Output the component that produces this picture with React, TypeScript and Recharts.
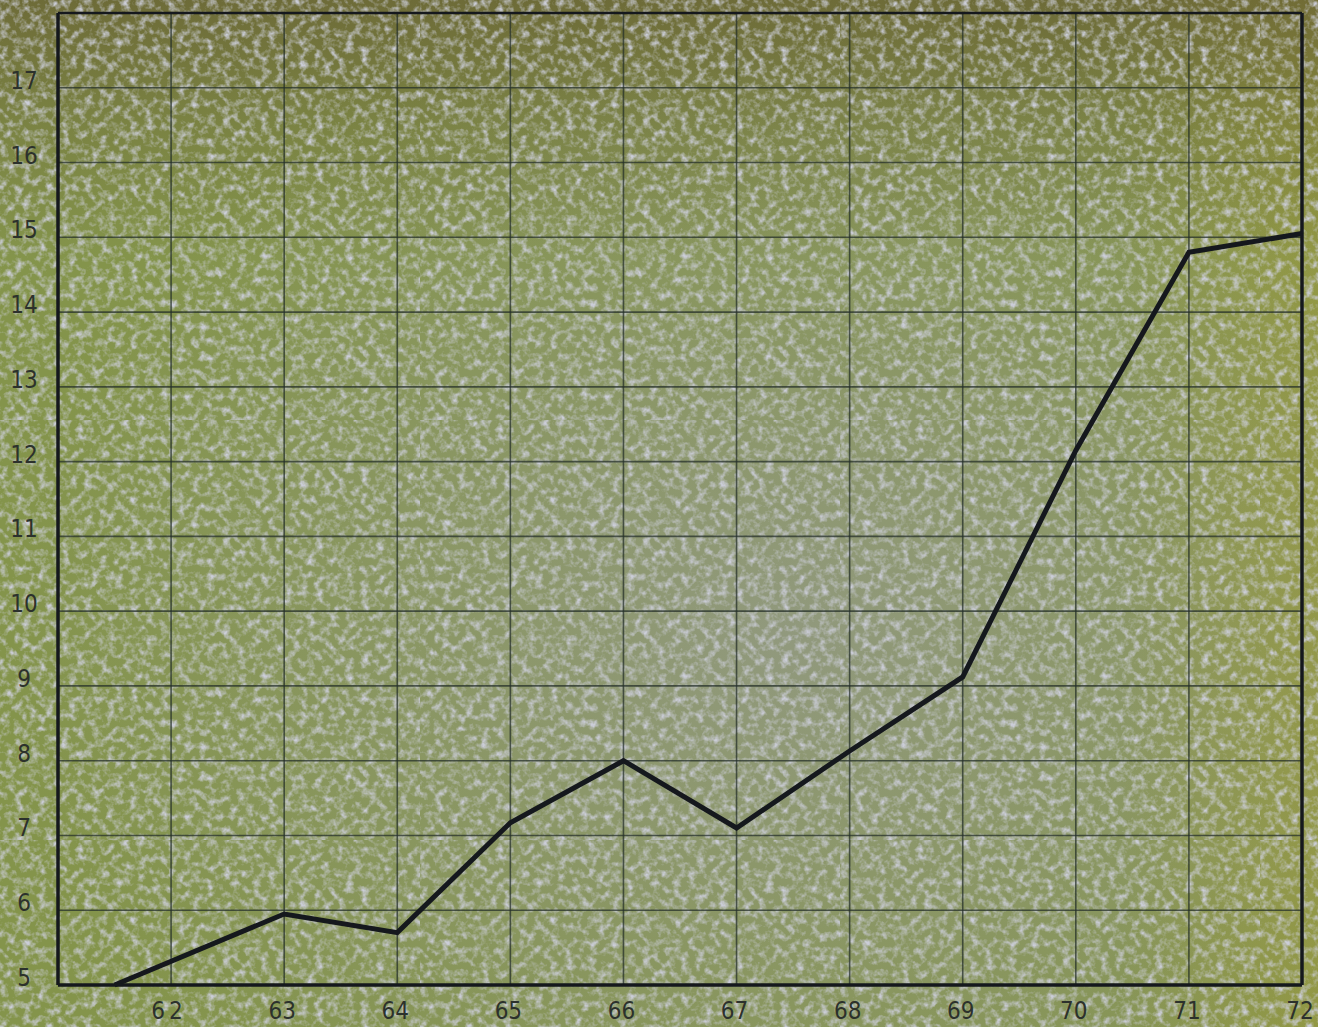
import { LineChart, Line, XAxis, YAxis, CartesianGrid, ReferenceLine } from 'recharts';

// years (19xx) and the plotted value
const years = [61.5, 63, 64, 65, 66, 67, 68, 69, 70, 71, 72];
const values = [5, 5.95, 5.7, 7.17, 8.0, 7.1, 8.13, 9.12, 12.15, 14.8, 15.05];

const xTicks = [62, 63, 64, 65, 66, 67, 68, 69, 70, 71, 72];
const yTicks = [5, 6, 7, 8, 9, 10, 11, 12, 13, 14, 15, 16, 17];

const data = years.map((year, i) => ({ year, value: values[i] }));

const INK = '#15181d';
const LABEL = '#2c312c';
const FONT = '"DejaVu Sans Condensed", "Liberation Sans Narrow", "Liberation Sans", sans-serif';

const noise =
  "url(\"data:image/svg+xml;utf8,<svg xmlns='http://www.w3.org/2000/svg' width='420' height='420'>" +
  "<filter id='n'><feTurbulence type='fractalNoise' baseFrequency='0.13' numOctaves='3' seed='7'/>" +
  "<feColorMatrix values='0 0 0 0 0.6  0 0 0 0 0.61  0 0 0 0 0.69  2.4 0 0 0 -1.05'/></filter>" +
  "<rect width='100%' height='100%' filter='url(%23n)'/></svg>\")";

const background = [
  noise,
  'linear-gradient(180deg, rgba(100,90,48,0.7) 0%, rgba(100,90,48,0.3) 12%, rgba(100,90,48,0) 25%)',
  'linear-gradient(90deg, rgba(150,150,50,0) 85%, rgba(160,155,55,0.45) 100%)',
  'radial-gradient(ellipse at 60% 62%, rgba(158,158,176,0.5) 0%, rgba(158,158,176,0.2) 40%, rgba(158,158,176,0) 70%)',
  '#84944b',
].join(', ');

function XTick({ x, y, payload }: any) {
  return (
    <text
      x={x - 2}
      y={y + 26}
      textAnchor="middle"
      fill={LABEL}
      fontSize={24}
      fontFamily={FONT}
      letterSpacing={payload.value === 62 ? 4 : 0}
    >
      {payload.value}
    </text>
  );
}

function YTick({ y, payload }: any) {
  return (
    <text x={24} y={y + 1} textAnchor="middle" fill={LABEL} fontSize={24} fontFamily={FONT}>
      {payload.value}
    </text>
  );
}

export default function App() {
  return (
    <div
      style={{
        position: 'absolute',
        top: 0,
        left: 0,
        width: 1318,
        height: 1027,
        overflow: 'hidden',
        background,
      }}
    >
      <LineChart width={1318} height={1027} data={data} margin={{ top: 13, right: 16, bottom: 0, left: 0 }}>
        <CartesianGrid stroke="#263029" strokeOpacity={0.75} strokeWidth={1.6} />
        <XAxis
          dataKey="year"
          type="number"
          domain={[61, 72]}
          ticks={xTicks}
          interval={0}
          height={42}
          tickLine={false}
          axisLine={{ stroke: INK, strokeWidth: 3.5 }}
          tick={<XTick />}
        />
        <YAxis
          type="number"
          domain={[5, 18]}
          ticks={yTicks}
          interval={0}
          width={58}
          tickLine={false}
          axisLine={{ stroke: INK, strokeWidth: 3.5 }}
          tick={<YTick />}
        />
        <ReferenceLine x={72} stroke={INK} strokeWidth={3.5} />
        <ReferenceLine y={18} stroke={INK} strokeWidth={2.5} />
        <Line
          type="linear"
          dataKey="value"
          stroke={INK}
          strokeWidth={5}
          dot={false}
          isAnimationActive={false}
        />
      </LineChart>
    </div>
  );
}
